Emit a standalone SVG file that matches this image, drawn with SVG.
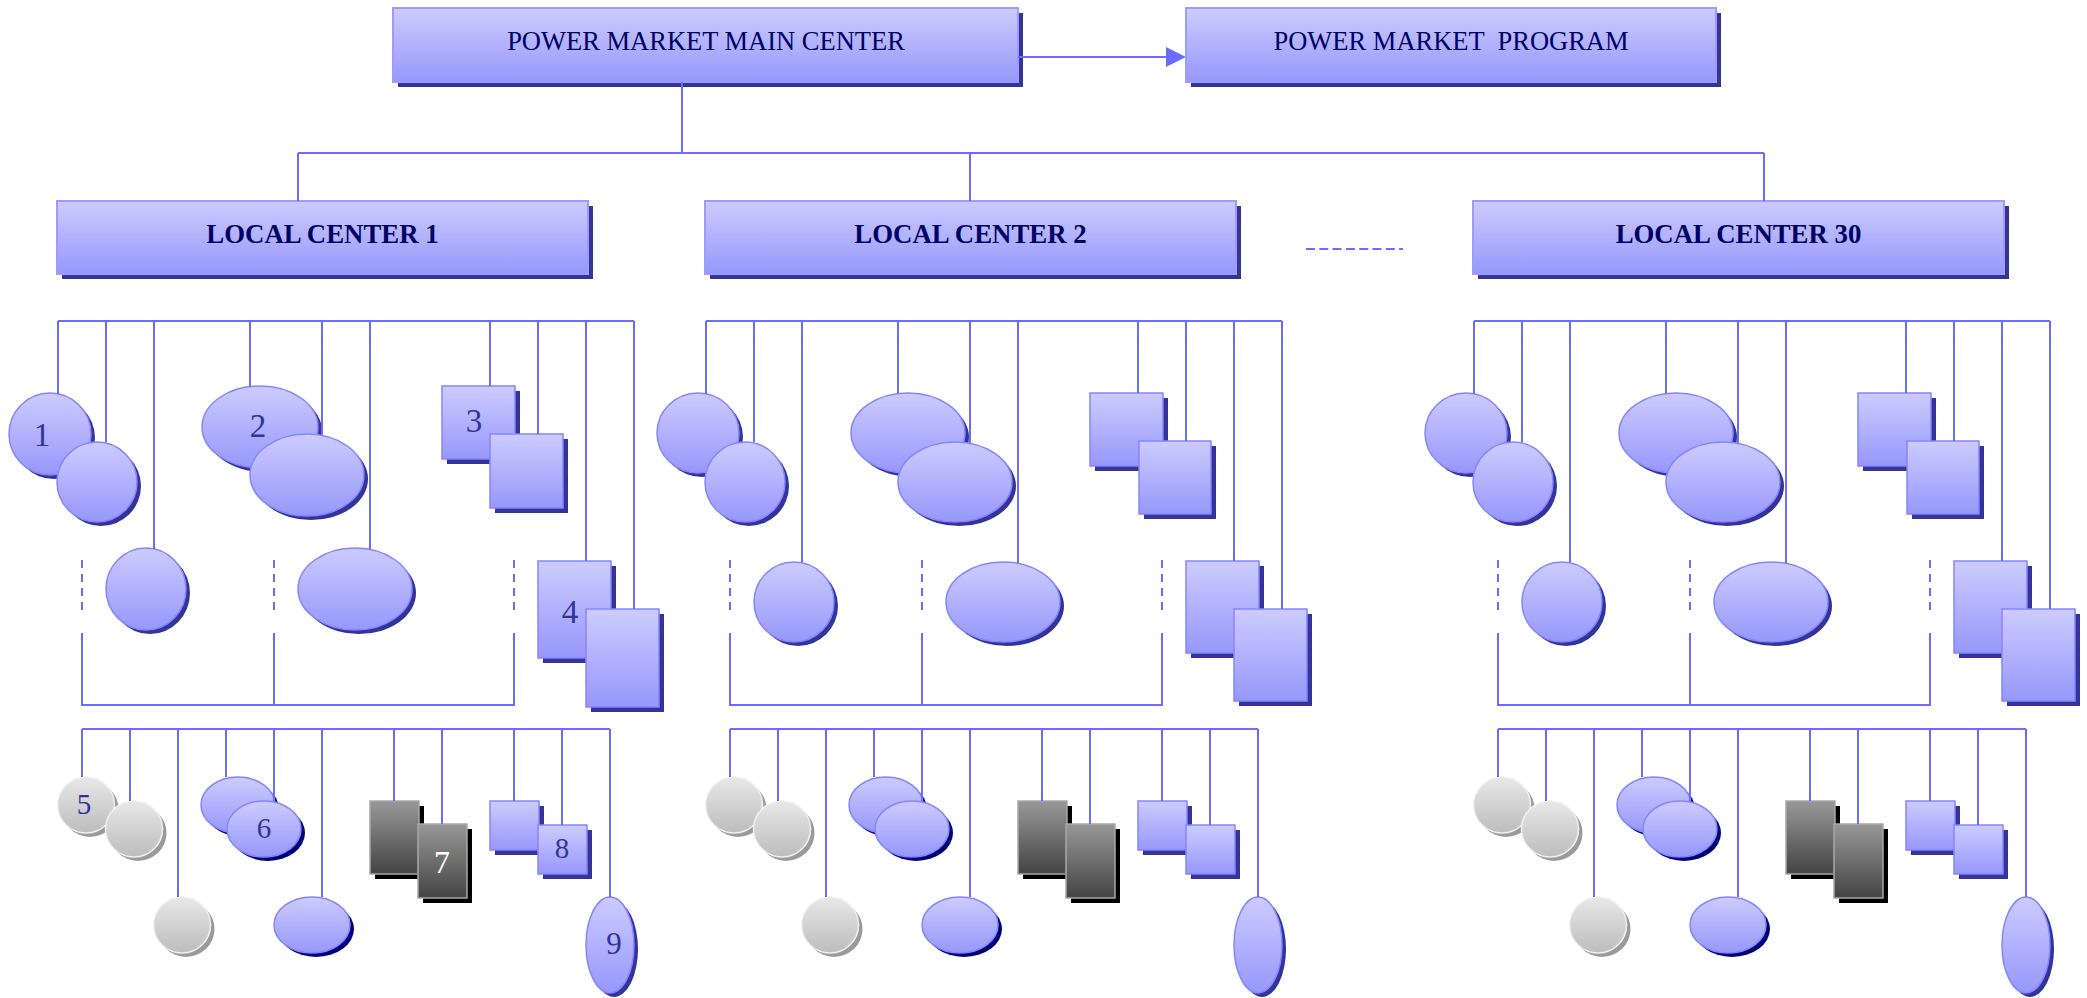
<svg xmlns="http://www.w3.org/2000/svg" width="2087" height="998" viewBox="0 0 2087 998">
  <defs>
    <linearGradient id="gBlue" x1="0" y1="0" x2="0" y2="1">
      <stop offset="0" stop-color="#CCCCFF"/>
      <stop offset="1" stop-color="#9797FB"/>
    </linearGradient>
    <linearGradient id="gGrey" x1="0" y1="0" x2="0" y2="1">
      <stop offset="0" stop-color="#E8E8E8"/>
      <stop offset="1" stop-color="#BDBDBD"/>
    </linearGradient>
    <linearGradient id="gDark" x1="0" y1="0" x2="0" y2="1">
      <stop offset="0" stop-color="#989898"/>
      <stop offset="1" stop-color="#444444"/>
    </linearGradient>
  </defs>
  <style>
    .conn { stroke: #6B6BFF; stroke-width: 2; fill: none; }
    .dash { stroke-dasharray: 8 6; }
    .hdash { stroke-dasharray: 9 4.3; }
    .box { fill: url(#gBlue); stroke: #9C9CFF; stroke-width: 2; }
    .shd { fill: #333399; }
    .shn { fill: #000077; }
    .shg { fill: #9A9A9A; }
    .shk { fill: #000000; }
    .bs { fill: url(#gBlue); stroke: #8585FF; stroke-width: 1.5; }
    .gs { fill: url(#gGrey); stroke: #F2F2F2; stroke-width: 1.5; }
    .ds { fill: url(#gDark); stroke: #A8A8A8; stroke-width: 1.5; }
    .title { font-family: "Liberation Serif", "Times New Roman", serif; font-size: 26.5px; fill: #000066; text-anchor: middle; white-space: pre; }
    .lc { font-weight: bold; font-size: 26.8px; }
    .num { font-family: "Liberation Serif", "Times New Roman", serif; fill: #333399; text-anchor: middle; }
  </style>
  <rect x="0" y="0" width="2087" height="998" fill="#FFFFFF"/>

  <!-- top level -->
  <g id="main-center">
    <rect class="shd" x="398" y="13" width="625" height="74"/>
    <rect class="box" x="393" y="8" width="625" height="74"/>
    <text class="title" x="706" y="50">POWER MARKET MAIN CENTER</text>
  </g>
  <g id="market-program">
    <rect class="shd" x="1191" y="13" width="530" height="74"/>
    <rect class="box" x="1186" y="8" width="530" height="74"/>
    <text class="title" x="1451" y="50">POWER MARKET  PROGRAM</text>
  </g>
  <g id="local-center-1">
    <rect class="shd" x="62" y="206" width="531" height="73"/>
    <rect class="box" x="57" y="201" width="531" height="73"/>
    <text class="title lc" x="322.5" y="243">LOCAL CENTER 1</text>
  </g>
  <g id="local-center-2">
    <rect class="shd" x="710" y="206" width="531" height="73"/>
    <rect class="box" x="705" y="201" width="531" height="73"/>
    <text class="title lc" x="970.5" y="243">LOCAL CENTER 2</text>
  </g>
  <g id="local-center-30">
    <rect class="shd" x="1478" y="206" width="531" height="73"/>
    <rect class="box" x="1473" y="201" width="531" height="73"/>
    <text class="title lc" x="1738.5" y="243">LOCAL CENTER 30</text>
  </g>

  <!-- units under local center 1 -->
  <g id="lc1-units">
    <g id="lc1-u1">
      <ellipse class="shd" cx="54" cy="438" rx="41" ry="41"/>
      <ellipse class="bs" cx="50" cy="434" rx="41" ry="41"/>
      <text class="num" x="42" y="446" font-size="33">1</text>
    </g>
    <g id="lc1-u1b">
      <ellipse class="shd" cx="101" cy="486" rx="40" ry="40"/>
      <ellipse class="bs" cx="97" cy="482" rx="40" ry="40"/>
    </g>
    <g id="lc1-u2">
      <ellipse class="shd" cx="264" cy="431" rx="58" ry="41"/>
      <ellipse class="bs" cx="260" cy="427" rx="58" ry="41"/>
      <text class="num" x="258" y="437" font-size="33">2</text>
    </g>
    <g id="lc1-u2b">
      <ellipse class="shd" cx="311" cy="479" rx="57" ry="41"/>
      <ellipse class="bs" cx="307" cy="475" rx="57" ry="41"/>
    </g>
    <g id="lc1-u3">
      <rect class="shd" x="447" y="391" width="73" height="73"/>
      <rect class="bs" x="442" y="386" width="73" height="73"/>
      <text class="num" x="474" y="432" font-size="33">3</text>
    </g>
    <g id="lc1-u3b">
      <rect class="shd" x="495" y="439" width="73" height="74"/>
      <rect class="bs" x="490" y="434" width="73" height="74"/>
    </g>
    <g id="lc1-uc">
      <ellipse class="shd" cx="150" cy="593" rx="40" ry="41"/>
      <ellipse class="bs" cx="146" cy="589" rx="40" ry="41"/>
    </g>
    <g id="lc1-ud">
      <ellipse class="shd" cx="359" cy="593" rx="57" ry="41"/>
      <ellipse class="bs" cx="355" cy="589" rx="57" ry="41"/>
    </g>
    <g id="lc1-u4">
      <rect class="shd" x="543" y="566" width="73" height="97"/>
      <rect class="bs" x="538" y="561" width="73" height="97"/>
      <text class="num" x="570" y="623" font-size="33">4</text>
    </g>
    <g id="lc1-u4b">
      <rect class="shd" x="591" y="614" width="73" height="98"/>
      <rect class="bs" x="586" y="609" width="73" height="98"/>
    </g>
    <!-- third row -->
    <g id="lc1-g5">
      <ellipse class="shg" cx="90" cy="809" rx="28.5" ry="28"/>
      <ellipse class="gs" cx="86" cy="805" rx="28.5" ry="28"/>
      <text class="num" x="84" y="814" font-size="29">5</text>
    </g>
    <g id="lc1-g5b">
      <ellipse class="shg" cx="138" cy="833" rx="28.5" ry="28"/>
      <ellipse class="gs" cx="134" cy="829" rx="28.5" ry="28"/>
    </g>
    <g id="lc1-gc">
      <ellipse class="shg" cx="186" cy="929" rx="28.5" ry="28"/>
      <ellipse class="gs" cx="182" cy="925" rx="28.5" ry="28"/>
    </g>
    <g id="lc1-b6a">
      <ellipse class="shn" cx="242" cy="809" rx="37" ry="28"/>
      <ellipse class="bs" cx="238" cy="805" rx="37" ry="28"/>
    </g>
    <g id="lc1-b6">
      <ellipse class="shn" cx="268" cy="833" rx="37" ry="28"/>
      <ellipse class="bs" cx="264" cy="829" rx="37" ry="28"/>
      <text class="num" x="264" y="838" font-size="29">6</text>
    </g>
    <g id="lc1-bc">
      <ellipse class="shn" cx="316" cy="929" rx="38" ry="28"/>
      <ellipse class="bs" cx="312" cy="925" rx="38" ry="28"/>
    </g>
    <g id="lc1-d7a">
      <rect class="shk" x="375" y="806" width="49" height="73"/>
      <rect class="ds" x="370" y="801" width="49" height="73"/>
    </g>
    <g id="lc1-d7">
      <rect class="shk" x="423" y="829" width="49" height="74"/>
      <rect class="ds" x="418" y="824" width="49" height="74"/>
      <text class="num" x="442" y="873" font-size="32" style="fill:#FFFFFF">7</text>
    </g>
    <g id="lc1-b8a">
      <rect class="shd" x="495" y="806" width="49" height="49"/>
      <rect class="bs" x="490" y="801" width="49" height="49"/>
    </g>
    <g id="lc1-b8">
      <rect class="shd" x="543" y="830" width="49" height="49"/>
      <rect class="bs" x="538" y="825" width="49" height="49"/>
      <text class="num" x="562" y="858" font-size="29">8</text>
    </g>
    <g id="lc1-e9">
      <ellipse class="shd" cx="614" cy="949" rx="24" ry="48"/>
      <ellipse class="bs" cx="610" cy="945" rx="24" ry="48"/>
      <text class="num" x="614" y="954" font-size="31">9</text>
    </g>
  </g>

  <!-- units under local center 2 -->
  <g id="lc2-units" transform="translate(648,0)">
    <g id="lc2-u1">
      <ellipse class="shd" cx="54" cy="437" rx="41" ry="40"/>
      <ellipse class="bs" cx="50" cy="433" rx="41" ry="40"/>
    </g>
    <g id="lc2-u1b">
      <ellipse class="shd" cx="101" cy="486" rx="40" ry="40"/>
      <ellipse class="bs" cx="97" cy="482" rx="40" ry="40"/>
    </g>
    <g id="lc2-u2">
      <ellipse class="shd" cx="264" cy="437" rx="57" ry="40"/>
      <ellipse class="bs" cx="260" cy="433" rx="57" ry="40"/>
    </g>
    <g id="lc2-u2b">
      <ellipse class="shd" cx="311" cy="486" rx="57" ry="40"/>
      <ellipse class="bs" cx="307" cy="482" rx="57" ry="40"/>
    </g>
    <g id="lc2-u3">
      <rect class="shd" x="447" y="398" width="73" height="73"/>
      <rect class="bs" x="442" y="393" width="73" height="73"/>
    </g>
    <g id="lc2-u3b">
      <rect class="shd" x="496" y="446" width="72" height="73"/>
      <rect class="bs" x="491" y="441" width="72" height="73"/>
    </g>
    <g id="lc2-uc">
      <ellipse class="shd" cx="150" cy="606" rx="40" ry="40"/>
      <ellipse class="bs" cx="146" cy="602" rx="40" ry="40"/>
    </g>
    <g id="lc2-ud">
      <ellipse class="shd" cx="359" cy="606" rx="57" ry="40"/>
      <ellipse class="bs" cx="355" cy="602" rx="57" ry="40"/>
    </g>
    <g id="lc2-u4">
      <rect class="shd" x="543" y="566" width="73" height="92"/>
      <rect class="bs" x="538" y="561" width="73" height="92"/>
    </g>
    <g id="lc2-u4b">
      <rect class="shd" x="591" y="614" width="73" height="92"/>
      <rect class="bs" x="586" y="609" width="73" height="92"/>
    </g>
    <g id="lc2-g5">
      <ellipse class="shg" cx="90" cy="809" rx="28.5" ry="28"/>
      <ellipse class="gs" cx="86" cy="805" rx="28.5" ry="28"/>
    </g>
    <g id="lc2-g5b">
      <ellipse class="shg" cx="138" cy="833" rx="28.5" ry="28"/>
      <ellipse class="gs" cx="134" cy="829" rx="28.5" ry="28"/>
    </g>
    <g id="lc2-gc">
      <ellipse class="shg" cx="186" cy="929" rx="28.5" ry="28"/>
      <ellipse class="gs" cx="182" cy="925" rx="28.5" ry="28"/>
    </g>
    <g id="lc2-b6a">
      <ellipse class="shn" cx="242" cy="809" rx="37" ry="28"/>
      <ellipse class="bs" cx="238" cy="805" rx="37" ry="28"/>
    </g>
    <g id="lc2-b6">
      <ellipse class="shn" cx="268" cy="833" rx="37" ry="28"/>
      <ellipse class="bs" cx="264" cy="829" rx="37" ry="28"/>
    </g>
    <g id="lc2-bc">
      <ellipse class="shn" cx="316" cy="929" rx="38" ry="28"/>
      <ellipse class="bs" cx="312" cy="925" rx="38" ry="28"/>
    </g>
    <g id="lc2-d7a">
      <rect class="shk" x="375" y="806" width="49" height="73"/>
      <rect class="ds" x="370" y="801" width="49" height="73"/>
    </g>
    <g id="lc2-d7">
      <rect class="shk" x="423" y="829" width="49" height="74"/>
      <rect class="ds" x="418" y="824" width="49" height="74"/>
    </g>
    <g id="lc2-b8a">
      <rect class="shd" x="495" y="806" width="49" height="49"/>
      <rect class="bs" x="490" y="801" width="49" height="49"/>
    </g>
    <g id="lc2-b8">
      <rect class="shd" x="543" y="830" width="49" height="49"/>
      <rect class="bs" x="538" y="825" width="49" height="49"/>
    </g>
    <g id="lc2-e9">
      <ellipse class="shd" cx="614" cy="949" rx="24" ry="48"/>
      <ellipse class="bs" cx="610" cy="945" rx="24" ry="48"/>
    </g>
  </g>

  <!-- units under local center 30 -->
  <g id="lc30-units" transform="translate(1416,0)">
    <g id="lc30-u1">
      <ellipse class="shd" cx="54" cy="437" rx="41" ry="40"/>
      <ellipse class="bs" cx="50" cy="433" rx="41" ry="40"/>
    </g>
    <g id="lc30-u1b">
      <ellipse class="shd" cx="101" cy="486" rx="40" ry="40"/>
      <ellipse class="bs" cx="97" cy="482" rx="40" ry="40"/>
    </g>
    <g id="lc30-u2">
      <ellipse class="shd" cx="264" cy="437" rx="57" ry="40"/>
      <ellipse class="bs" cx="260" cy="433" rx="57" ry="40"/>
    </g>
    <g id="lc30-u2b">
      <ellipse class="shd" cx="311" cy="486" rx="57" ry="40"/>
      <ellipse class="bs" cx="307" cy="482" rx="57" ry="40"/>
    </g>
    <g id="lc30-u3">
      <rect class="shd" x="447" y="398" width="73" height="73"/>
      <rect class="bs" x="442" y="393" width="73" height="73"/>
    </g>
    <g id="lc30-u3b">
      <rect class="shd" x="496" y="446" width="72" height="73"/>
      <rect class="bs" x="491" y="441" width="72" height="73"/>
    </g>
    <g id="lc30-uc">
      <ellipse class="shd" cx="150" cy="606" rx="40" ry="40"/>
      <ellipse class="bs" cx="146" cy="602" rx="40" ry="40"/>
    </g>
    <g id="lc30-ud">
      <ellipse class="shd" cx="359" cy="606" rx="57" ry="40"/>
      <ellipse class="bs" cx="355" cy="602" rx="57" ry="40"/>
    </g>
    <g id="lc30-u4">
      <rect class="shd" x="543" y="566" width="73" height="92"/>
      <rect class="bs" x="538" y="561" width="73" height="92"/>
    </g>
    <g id="lc30-u4b">
      <rect class="shd" x="591" y="614" width="73" height="92"/>
      <rect class="bs" x="586" y="609" width="73" height="92"/>
    </g>
    <g id="lc30-g5">
      <ellipse class="shg" cx="90" cy="809" rx="28.5" ry="28"/>
      <ellipse class="gs" cx="86" cy="805" rx="28.5" ry="28"/>
    </g>
    <g id="lc30-g5b">
      <ellipse class="shg" cx="138" cy="833" rx="28.5" ry="28"/>
      <ellipse class="gs" cx="134" cy="829" rx="28.5" ry="28"/>
    </g>
    <g id="lc30-gc">
      <ellipse class="shg" cx="186" cy="929" rx="28.5" ry="28"/>
      <ellipse class="gs" cx="182" cy="925" rx="28.5" ry="28"/>
    </g>
    <g id="lc30-b6a">
      <ellipse class="shn" cx="242" cy="809" rx="37" ry="28"/>
      <ellipse class="bs" cx="238" cy="805" rx="37" ry="28"/>
    </g>
    <g id="lc30-b6">
      <ellipse class="shn" cx="268" cy="833" rx="37" ry="28"/>
      <ellipse class="bs" cx="264" cy="829" rx="37" ry="28"/>
    </g>
    <g id="lc30-bc">
      <ellipse class="shn" cx="316" cy="929" rx="38" ry="28"/>
      <ellipse class="bs" cx="312" cy="925" rx="38" ry="28"/>
    </g>
    <g id="lc30-d7a">
      <rect class="shk" x="375" y="806" width="49" height="73"/>
      <rect class="ds" x="370" y="801" width="49" height="73"/>
    </g>
    <g id="lc30-d7">
      <rect class="shk" x="423" y="829" width="49" height="74"/>
      <rect class="ds" x="418" y="824" width="49" height="74"/>
    </g>
    <g id="lc30-b8a">
      <rect class="shd" x="495" y="806" width="49" height="49"/>
      <rect class="bs" x="490" y="801" width="49" height="49"/>
    </g>
    <g id="lc30-b8">
      <rect class="shd" x="543" y="830" width="49" height="49"/>
      <rect class="bs" x="538" y="825" width="49" height="49"/>
    </g>
    <g id="lc30-e9">
      <ellipse class="shd" cx="614" cy="949" rx="24" ry="48"/>
      <ellipse class="bs" cx="610" cy="945" rx="24" ry="48"/>
    </g>
  </g>

  <!-- connectors -->
  <g id="connectors">
    <path class="conn" d="M1018 57 H1168"/>
    <polygon points="1166,47 1186,57 1166,67" fill="#6B6BFF"/>
    <path class="conn" d="M682 82 V153 M298 153 H1764 M298 153 V201 M970 153 V201 M1764 153 V201"/>
    <path class="conn hdash" d="M1306 249 H1403"/>

    <g id="lc1-links">
      <path class="conn" d="M58 321 H634 M58 321 V394 M106 321 V442 M154 321 V549 M250 321 V387 M322 321 V435 M370 321 V549 M490 321 V386 M538 321 V434 M586 321 V561 M634 321 V609"/>
      <path class="conn dash" d="M82 560 V610 M274 560 V610 M514 560 V610"/>
      <path class="conn" d="M82 633 V705 H514 V633 M274 633 V705"/>
      <path class="conn" d="M82 729 H610 M82 729 V777 M130 729 V801 M178 729 V897 M226 729 V777 M274 729 V801 M322 729 V897 M394 729 V801 M442 729 V824 M514 729 V801 M562 729 V825 M610 729 V897"/>
    </g>
    <g id="lc2-links" transform="translate(648,0)">
      <path class="conn" d="M58 321 H634 M58 321 V394 M106 321 V442 M154 321 V562 M250 321 V393 M322 321 V443 M370 321 V563 M490 321 V393 M538 321 V441 M586 321 V561 M634 321 V609"/>
      <path class="conn dash" d="M82 560 V610 M274 560 V610 M514 560 V610"/>
      <path class="conn" d="M82 633 V705 H514 V633 M274 633 V705"/>
      <path class="conn" d="M82 729 H610 M82 729 V777 M130 729 V801 M178 729 V897 M226 729 V777 M274 729 V801 M322 729 V897 M394 729 V801 M442 729 V824 M514 729 V801 M562 729 V825 M610 729 V897"/>
    </g>
    <g id="lc30-links" transform="translate(1416,0)">
      <path class="conn" d="M58 321 H634 M58 321 V394 M106 321 V442 M154 321 V562 M250 321 V393 M322 321 V443 M370 321 V563 M490 321 V393 M538 321 V441 M586 321 V561 M634 321 V609"/>
      <path class="conn dash" d="M82 560 V610 M274 560 V610 M514 560 V610"/>
      <path class="conn" d="M82 633 V705 H514 V633 M274 633 V705"/>
      <path class="conn" d="M82 729 H610 M82 729 V777 M130 729 V801 M178 729 V897 M226 729 V777 M274 729 V801 M322 729 V897 M394 729 V801 M442 729 V824 M514 729 V801 M562 729 V825 M610 729 V897"/>
    </g>
  </g>
</svg>
